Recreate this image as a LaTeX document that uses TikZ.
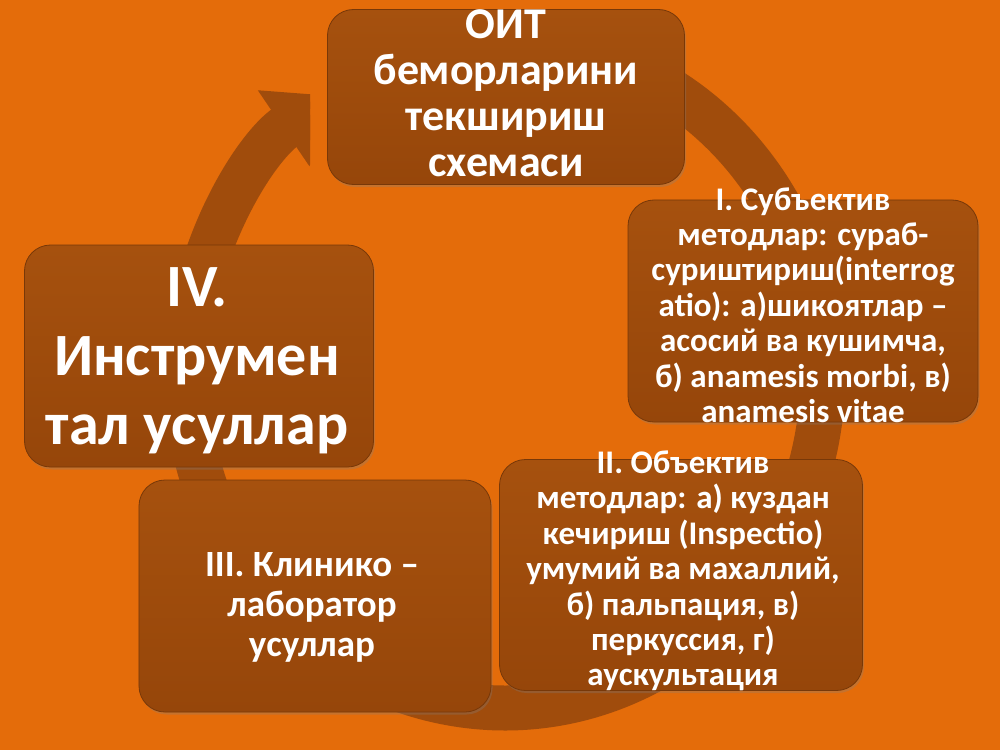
\documentclass[tikz,border=0pt]{standalone}
\usepackage{fontspec}
\setmainfont{Carlito}
\usetikzlibrary{arrows.meta,shadows}

\definecolor{slidebg}{RGB}{228,108,10}
\definecolor{boxtop}{RGB}{166,81,14}
\definecolor{boxbot}{RGB}{150,70,10}
\definecolor{ringbrown}{RGB}{160,76,12}

\begin{document}
\begin{tikzpicture}[x=1bp,y=-1bp,
    stepbox/.style={rounded corners=26bp,top color=boxtop,bottom color=boxbot,draw=boxbot!80!black,line width=.8bp,
      drop shadow={shadow xshift=1.5bp,shadow yshift=-2.5bp,opacity=.3}},
    steptext/.style={text=white,align=center,inner sep=0pt},
    cyc/.style={draw=ringbrown,line width=45bp,-{Triangle[width=88bp,length=58bp]}}
  ]
  \useasboundingbox (0,0) rectangle (1000,750);
  \fill[slidebg] (0,0) rectangle (1000,750);

  %cycle arrow
  \begin{scope}
    \clip (0,0) -- (310,0) -- (310,200) -- (328,200) -- (328,0) -- (1000,0) -- (1000,750) -- (0,750) -- cycle;
    \coordinate (cycstart) at (560,47);
    \draw[cyc] (cycstart) arc[start angle=-80,end angle=237,x radius=318,y radius=333];
  \end{scope}

  %boxes
  \node[stepbox,minimum width=357bp,minimum height=175bp] (oit) at (506,97) {};
  \node[stepbox,minimum width=350bp,minimum height=222bp] (sub) at (803,311) {};
  \node[stepbox,minimum width=363bp,minimum height=231bp] (obj) at (681,575) {};
  \node[stepbox,minimum width=352bp,minimum height=232bp] (lab) at (315,596) {};
  \node[stepbox,minimum width=349bp,minimum height=222bp] (ins) at (199,356) {};

  %labels
  \node[steptext,font=\bfseries\fontsize{44bp}{46bp}\selectfont] (oittxt) at (506,93)
    {ОИТ\\беморларини\\текшириш\\схемаси};
  \node[steptext,font=\bfseries\fontsize{33bp}{35.4bp}\selectfont] (subtxt) at (803,305)
    {I. Субъектив\\методлар:  сураб-\\суриштириш(interrog\\atio): а)шикоятлар –\\асосий ва кушимча,\\б) anamesis morbi, в)\\anamesis vitae};
  \node[steptext,font=\bfseries\fontsize{33bp}{35.4bp}\selectfont] (objtxt) at (683,571)
    {II. Объектив\\методлар: а) куздан\\кечириш (Inspectio)\\умумий ва махаллий,\\б) пальпация, в)\\перкуссия, г)\\аускультация};
  \node[steptext,font=\bfseries\fontsize{37bp}{40bp}\selectfont] (labtxt) at (312,607)
    {III. Клинико –\\лаборатор\\усуллар};
  \node[steptext,font=\bfseries\fontsize{60bp}{69bp}\selectfont] (instxt) at (197,361)
    {IV.\\Инструмен\\тал усуллар};
\end{tikzpicture}
\end{document}
